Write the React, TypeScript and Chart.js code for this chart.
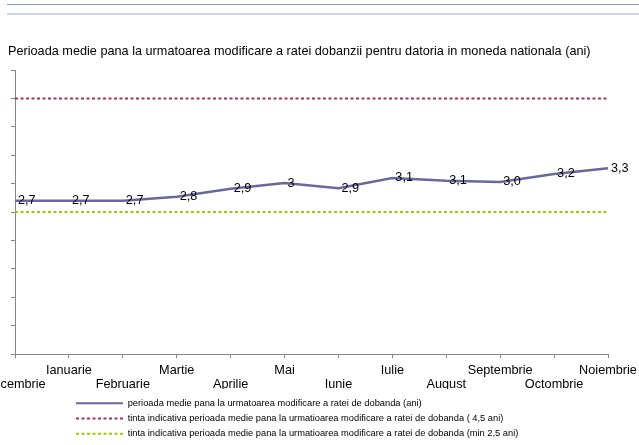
import React, { useEffect, useRef } from "react";
import Chart from "chart.js/auto";

const months = [
  "Decembrie", "Ianuarie", "Februarie", "Martie", "Aprilie", "Mai",
  "Iunie", "Iulie", "August", "Septembrie", "Octombrie", "Noiembrie",
];
const durationValues = [2.7, 2.7, 2.7, 2.77, 2.91, 3.01, 2.92, 3.1, 3.05, 3.03, 3.17, 3.27];
const durationLabels = ["2,7", "2,7", "2,7", "2,8", "2,9", "3", "2,9", "3,1", "3,1", "3,0", "3,2", "3,3"];
const targetMax = 4.5;
const targetMin = 2.5;
const yMin = 0;
const yMax = 5;
const yStep = 0.5;

const seriesNames = [
  "perioada medie pana la urmatoarea modificare a ratei de dobanda (ani)",
  "tinta indicativa perioada medie pana la urmatioarea modificare a ratei de dobanda ( 4,5 ani)",
  "tinta indicativa perioada medie pana la urmatioarea modificare a ratei de dobanda (min 2,5 ani)",
];
const titleText =
  "Perioada medie pana la urmatoarea modificare a ratei dobanzii pentru datoria in moneda nationala (ani)";

const FONT = '"Liberation Sans", Arial, sans-serif';

const pointLabelPlugin = {
  id: "pointLabels",
  afterDatasetsDraw(chart: any) {
    const meta = chart.getDatasetMeta(0);
    const ctx = chart.ctx;
    ctx.save();
    ctx.font = `12.7px ${FONT}`;
    ctx.fillStyle = "#000";
    ctx.textAlign = "left";
    ctx.textBaseline = "middle";
    meta.data.forEach((pt: any, i: number) => {
      ctx.fillText(durationLabels[i], pt.x + 3, pt.y);
    });
    ctx.restore();
  },
};

const legendShiftPlugin = {
  id: "legendShift",
  afterLayout(chart: any) {
    const lg = chart.legend;
    if (lg) {
      lg.left += 62;
      lg.top += 3.5;
      lg.bottom += 3.5;
    }
  },
};

export default function App() {
  const ref = useRef<HTMLCanvasElement | null>(null);
  useEffect(() => {
    if (!ref.current) return;
    Chart.defaults.font.family = FONT;
    const chart = new Chart(ref.current, {
      type: "line",
      data: {
        labels: months.map((m, i) => (i % 2 === 1 ? [m, ""] : ["", m])),
        datasets: [
          {
            label: seriesNames[0],
            data: durationValues,
            borderColor: "#68689C",
            backgroundColor: "#68689C",
            borderWidth: 2.5,
            pointRadius: 0,
            tension: 0,
          },
          {
            label: seriesNames[1],
            data: months.map(() => targetMax),
            borderColor: "#A8325F",
            backgroundColor: "#A8325F",
            borderWidth: 2,
            borderDash: [3, 2.5],
            pointRadius: 0,
          },
          {
            label: seriesNames[2],
            data: months.map(() => targetMin),
            borderColor: "#99CC00",
            backgroundColor: "#99CC00",
            borderWidth: 2,
            borderDash: [3, 2.5],
            pointRadius: 0,
          },
        ],
      },
      options: {
        animation: false,
        responsive: false,
        layout: { padding: { left: 8, right: 0, top: 0, bottom: 0 } },
        plugins: {
          title: {
            display: true,
            text: titleText,
            align: "start",
            color: "#000",
            font: { size: 12.7, weight: "normal", family: FONT, lineHeight: 14.4 / 12.7 },
            padding: { top: 44.5, bottom: 11.1 },
          },
          legend: {
            position: "bottom",
            align: "start",
            labels: {
              usePointStyle: true,
              pointStyle: "line",
              pointStyleWidth: 47,
              boxHeight: 9,
              padding: 6,
              color: "#000",
              font: { size: 9.3, family: FONT },
              generateLabels: (c: any) => {
                const items = (Chart as any).defaults.plugins.legend.labels.generateLabels(c);
                items.forEach((it: any) => {
                  const ds = c.data.datasets[it.datasetIndex];
                  it.lineDash = ds.borderDash || [];
                  it.lineWidth = 2;
                  it.strokeStyle = ds.borderColor;
                  it.fillStyle = ds.borderColor;
                });
                return items;
              },
            },
          },
          tooltip: { enabled: false },
        },
        scales: {
          x: {
            grid: {
              drawOnChartArea: false,
              tickLength: 4,
              color: "#868686",
            },
            border: { color: "#868686", width: 1 },
            ticks: {
              autoSkip: false,
              maxRotation: 0,
              minRotation: 0,
              padding: 5,
              color: "#000",
              font: { size: 12.7, lineHeight: 14 / 12.7, family: FONT },
            },
            afterFit: (s: any) => {
              s.height = 35;
              s.paddingLeft = 0;
              s.paddingRight = 31;
            },
          },
          y: {
            min: yMin,
            max: yMax,
            ticks: { display: false, stepSize: yStep },
            grid: {
              drawOnChartArea: false,
              tickLength: 4,
              color: "#868686",
            },
            border: { color: "#868686", width: 1 },
            afterFit: (s: any) => {
              s.width = 7;
            },
          },
        },
      },
      plugins: [pointLabelPlugin, legendShiftPlugin],
    } as any);
    return () => chart.destroy();
  }, []);

  return (
    <div style={{ position: "absolute", left: 0, top: 0, width: 639, height: 445, background: "#fff", overflow: "hidden" }}>
      <div style={{ position: "absolute", left: 7, top: 4, width: 632, height: 1, background: "#7B9DC9" }} />
      <div style={{ position: "absolute", left: 7, top: 13, width: 632, height: 2, background: "#C9D5E8" }} />
      <canvas ref={ref} width={639} height={445} style={{ display: "block", width: 639, height: 445 }} />
    </div>
  );
}
